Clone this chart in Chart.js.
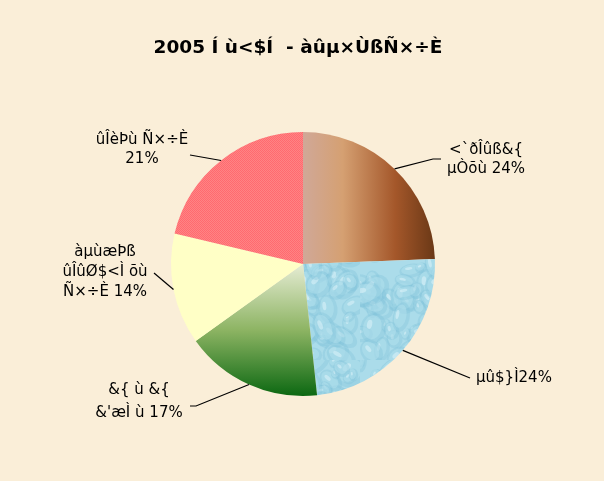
<!DOCTYPE html>
<html>
<head>
<meta charset="utf-8">
<script src="https://cdn.jsdelivr.net/npm/chart.js@4"></script>
<style>
  html, body { margin: 0; padding: 0; background: #faeed8; }
  #wrap { width: 604px; height: 481px; position: relative; }
</style>
</head>
<body>
<div id="wrap"><canvas id="pieChart" width="604" height="481"></canvas></div>
<script>
// Data
const chartTitle = '2005 Í ù<$Í  - àûµ×ÙßÑ×÷È';
const categories = [
    ['<`ðÎûß&{', 'µÒõù'],
    ['µû$}Ì'],
    ['&{ ù &{', '&\'æÌ ù'],
    ['àµùæÞß', 'ûÎûØ$<Ì õù', 'Ñ×÷È'],
    ['ûÎèÞù Ñ×÷È']
];
const shares = [24.4, 23.9, 16.8, 13.6, 21.3];

// label placement (text anchor + elbow of leader line)
const labelPlaces = [
    { x: 486, y: 150, align: 'center', elbow: [433, 159], end: [441, 159], pctInline: true },
    { x: 476, y: 378, align: 'left', elbow: [470, 378], end: [470, 378], pctInline: true, noSpace: true },
    { x: 139, y: 390, align: 'center', elbow: [196, 406], end: [190, 406], pctInline: true },
    { x: 105, y: 252, align: 'center', elbow: [154, 273], end: [154, 273], pctInline: true },
    { x: 142, y: 140, align: 'center', elbow: [190, 155], end: [190, 155], pctInline: false }
];

const total = shares.reduce((a, b) => a + b, 0);

function makeRedPattern() {
    const c = document.createElement('canvas');
    c.width = 2; c.height = 2;
    const g = c.getContext('2d');
    g.fillStyle = '#ff8484'; g.fillRect(0, 0, 2, 2);
    g.fillStyle = '#ff6a70'; g.fillRect(0, 0, 1, 1); g.fillRect(1, 1, 1, 1);
    return g.createPattern(c, 'repeat');
}

// water-drop texture, just decoration
function makeWaterPattern() {
    const c = document.createElement('canvas');
    c.width = 120; c.height = 120;
    const g = c.getContext('2d');
    g.fillStyle = '#abdcea'; g.fillRect(0, 0, 120, 120);
    let seed = 11;
    const rnd = () => { seed = (seed * 16807) % 2147483647; return seed / 2147483647; };
    for (let k = 0; k < 80; k++) {
        const x = rnd() * 120, y = rnd() * 120;
        const rx = 5 + rnd() * 12, ry = rx * (0.55 + rnd() * 0.35);
        const rot = rnd() * Math.PI;
        g.beginPath();
        g.ellipse(x, y, rx, ry, rot, 0, Math.PI * 2);
        g.fillStyle = 'rgba(128,196,218,0.35)'; g.fill();
        g.beginPath();
        g.ellipse(x - 1, y - 1, rx * 0.78, ry * 0.72, rot, 0, Math.PI * 2);
        g.fillStyle = 'rgba(185,228,240,0.45)'; g.fill();
        g.beginPath();
        g.ellipse(x - rx * 0.25, y - ry * 0.3, rx * 0.3, ry * 0.2, rot, 0, Math.PI * 2);
        g.fillStyle = 'rgba(232,248,252,0.45)'; g.fill();
    }
    return g.createPattern(c, 'repeat');
}

const redPattern = makeRedPattern();
const waterPattern = makeWaterPattern();

function sliceFill(context) {
    const chart = context.chart;
    const area = chart.chartArea;
    if (!area) return '#ccc';
    const ctx = chart.ctx;
    const cx = (area.left + area.right) / 2;
    const cy = (area.top + area.bottom) / 2;
    const i = context.dataIndex;
    if (i === 0) {
        const g = ctx.createLinearGradient(cx, 0, area.right, 0);
        g.addColorStop(0, '#d0a898');
        g.addColorStop(0.3, '#d5a072');
        g.addColorStop(0.7, '#a4572a');
        g.addColorStop(1, '#6a3816');
        return g;
    }
    if (i === 1) return waterPattern;
    if (i === 2) {
        const g = ctx.createLinearGradient(0, cy, 0, area.bottom);
        g.addColorStop(0, '#e6ecd4');
        g.addColorStop(0.5, '#8db463');
        g.addColorStop(1, '#0c6812');
        return g;
    }
    if (i === 3) return '#ffffc6';
    return redPattern;
}

const labelPlugin = {
    id: 'leaderLabels',
    afterDatasetsDraw(chart) {
        const ctx = chart.ctx;
        const meta = chart.getDatasetMeta(0);
        ctx.save();
        ctx.font = '15px "DejaVu Sans", Verdana, sans-serif';
        ctx.fillStyle = '#000';
        ctx.strokeStyle = '#000';
        ctx.lineWidth = 1.2;
        meta.data.forEach((arc, i) => {
            const p = labelPlaces[i];
            const mid = (arc.startAngle + arc.endAngle) / 2;
            const ex = arc.x + Math.cos(mid) * arc.outerRadius;
            const ey = arc.y + Math.sin(mid) * arc.outerRadius;
            ctx.beginPath();
            ctx.moveTo(ex, ey);
            ctx.lineTo(p.elbow[0], p.elbow[1]);
            ctx.lineTo(p.end[0], p.end[1]);
            ctx.stroke();

            const pct = Math.round(shares[i] / total * 100) + '%';
            const lines = categories[i].slice();
            if (p.pctInline) {
                lines[lines.length - 1] += (p.noSpace ? '' : ' ') + pct;
            } else {
                lines.push(pct);
            }
            const lh = lines.length === 3 ? 20 : (i === 2 ? 23 : 19);
            ctx.textAlign = p.align;
            ctx.textBaseline = 'middle';
            lines.forEach((t, k) => ctx.fillText(t, p.x, p.y + k * lh));
        });
        ctx.restore();
    }
};

const backdropPlugin = {
    id: 'backdrop',
    beforeDraw(chart) {
        const ctx = chart.ctx;
        ctx.save();
        ctx.fillStyle = '#faeed8';
        ctx.fillRect(0, 0, chart.width, chart.height);
        ctx.font = 'bold 18.5px "DejaVu Sans", Verdana, sans-serif';
        ctx.fillStyle = '#000';
        ctx.textAlign = 'center';
        ctx.textBaseline = 'middle';
        ctx.fillText(chartTitle, 298, 48);
        ctx.restore();
    }
};

new Chart(document.getElementById('pieChart'), {
    type: 'pie',
    data: {
        labels: categories.map(c => c.join(' ')),
        datasets: [{
            data: shares,
            backgroundColor: sliceFill,
            borderWidth: 0
        }]
    },
    options: {
        responsive: false,
        animation: false,
        layout: { padding: { top: 132, bottom: 85, left: 171, right: 169 } },
        plugins: {
            legend: { display: false },
            tooltip: { enabled: false },
            title: { display: false }
        }
    },
    plugins: [backdropPlugin, labelPlugin]
});
</script>
</body>
</html>
